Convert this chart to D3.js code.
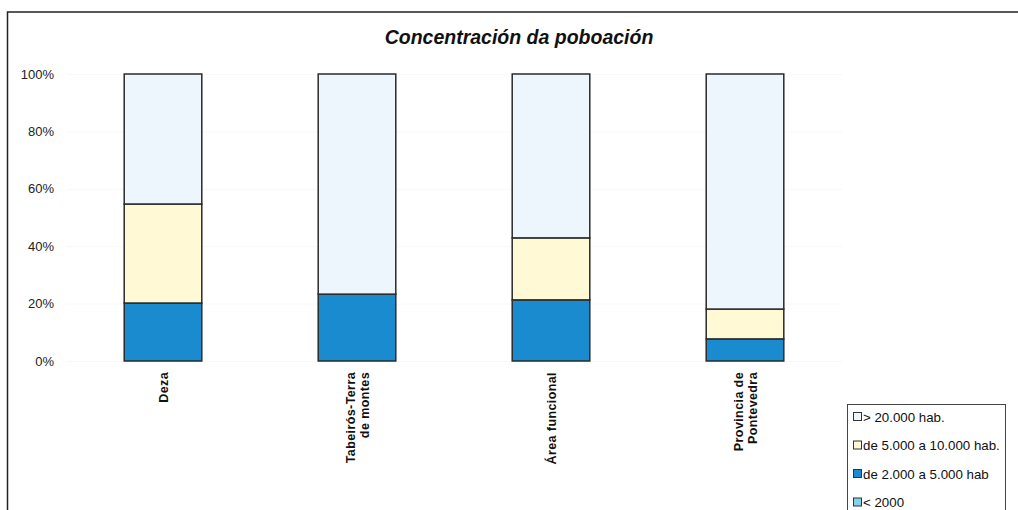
<!DOCTYPE html>
<html>
<head>
<meta charset="utf-8">
<script src="https://cdn.jsdelivr.net/npm/d3@7"></script>
<style>
  body { margin: 0; background: #fff; }
  svg { display: block; font-family: "Liberation Sans", Arial, sans-serif; }
</style>
</head>
<body>
<div class="container"></div>
<script>
let categories = [["Deza"], ["Tabeirós-Terra", "de montes"], ["Área funcional"], ["Provincia de", "Pontevedra"]]
let seriesNames = ["< 2000", "de 2.000 a 5.000 hab", "de 5.000 a 10.000 hab.", "> 20.000 hab."]
let seriesColors = ["#86cff0", "#1b8bcf", "#fff9d5", "#eef6fd"]
let under2000 = [0, 0, 0, 0]
let from2to5 = [20.2, 23.3, 21.3, 7.7]
let from5to10 = [34.5, 0, 21.6, 10.4]
let over20 = [45.3, 76.7, 57.1, 81.9]
let yTicks = [0, 20, 40, 60, 80, 100]

let chart = d3.select(".container")

function getChart(){
    const width = 1018
    const height = 510
    const top = 74, bottom = 361, left = 66, right = 842

    const svg = chart.append("svg")
                     .attr("width", width)
                     .attr("height", height)

    // outer frame (clipped at right and bottom)
    svg.append("path")
       .attr("d", `M7.5,${height} V12 H${width}`)
       .attr("fill", "none")
       .attr("stroke", "#222")
       .attr("stroke-width", 1.5)

    svg.append("text")
       .attr("x", 519)
       .attr("y", 44)
       .attr("text-anchor", "middle")
       .style("font-size", "19.5px")
       .style("font-weight", "bold")
       .style("font-style", "italic")
       .attr("fill", "#111")
       .text("Concentración da poboación")

    const x = d3.scaleBand()
                .domain(d3.range(categories.length))
                .range([left, right])
                .paddingInner(0.6)
                .paddingOuter(0.3)

    const y = d3.scaleLinear()
                .domain([0, 100])
                .range([bottom, top])

    // faint gridlines
    svg.append("g")
       .selectAll("line")
       .data(yTicks)
       .enter()
       .append("line")
       .attr("x1", left)
       .attr("x2", right)
       .attr("y1", d => y(d) + 0.5)
       .attr("y2", d => y(d) + 0.5)
       .attr("stroke", "#f8f8f8")

    const yAxis = svg.append("g")
       .attr("id", "y-axis")
       .attr("transform", `translate(${left},0)`)
       .call(d3.axisLeft(y).tickValues(yTicks).tickFormat(d => d + "%").tickSize(0).tickPadding(12))
    yAxis.select(".domain").remove()
    yAxis.selectAll("text")
         .style("font-size", "13px")
         .style("font-family", "Liberation Sans, Arial, sans-serif")
         .attr("fill", "#222")

    const values = [under2000, from2to5, from5to10, over20]
    const rows = categories.map((c, i) => {
        let r = { i: i }
        seriesNames.forEach((s, k) => r[s] = values[k][i])
        return r
    })
    const stacked = d3.stack().keys(seriesNames)(rows)

    svg.selectAll("g.series")
       .data(stacked)
       .enter()
       .append("g")
       .attr("class", "series")
       .attr("fill", (d, k) => seriesColors[k])
       .selectAll("rect")
       .data(d => d.filter(p => p[1] - p[0] > 0))
       .enter()
       .append("rect")
       .attr("class", "bar")
       .attr("x", d => x(d.data.i))
       .attr("y", d => y(d[1]))
       .attr("width", x.bandwidth())
       .attr("height", d => y(d[0]) - y(d[1]))
       .attr("stroke", "#2a2a2a")
       .attr("stroke-width", 1.5)

    // rotated category labels
    const labels = svg.selectAll("g.cat")
       .data(categories)
       .enter()
       .append("g")
       .attr("class", "cat")
       .attr("transform", (d, i) => `translate(${x(i) + x.bandwidth() / 2},372) rotate(-90)`)

    labels.append("text")
       .attr("text-anchor", "end")
       .style("font-size", "12.5px")
       .style("font-weight", "bold")
       .style("letter-spacing", "0.4px")
       .attr("fill", "#111")
       .selectAll("tspan")
       .data(d => d.map((t, j) => ({ t: t, j: j, n: d.length })))
       .enter()
       .append("tspan")
       .attr("x", 0)
       .attr("y", d => (d.j - (d.n - 1) / 2) * 14 + 4.5)
       .text(d => d.t)

    // legend
    const legend = svg.append("g").attr("transform", "translate(847,404)")
    legend.append("rect")
          .attr("x", 0.5)
          .attr("y", 0.5)
          .attr("width", 158)
          .attr("height", 120)
          .attr("fill", "#fff")
          .attr("stroke", "#444")

    const order = [3, 2, 1, 0]
    const items = legend.selectAll("g.item")
          .data(order)
          .enter()
          .append("g")
          .attr("class", "item")
          .attr("transform", (k, n) => `translate(6,${13 + n * 28.5})`)
    items.append("rect")
         .attr("x", 0.5)
         .attr("y", -4.5)
         .attr("width", 8)
         .attr("height", 8)
         .attr("fill", k => seriesColors[k])
         .attr("stroke", "#333")
    items.append("text")
         .attr("x", 10)
         .attr("y", 4.5)
         .style("font-size", "13.3px")
         .attr("fill", "#111")
         .text(k => seriesNames[k])
}

getChart()
</script>
</body>
</html>
